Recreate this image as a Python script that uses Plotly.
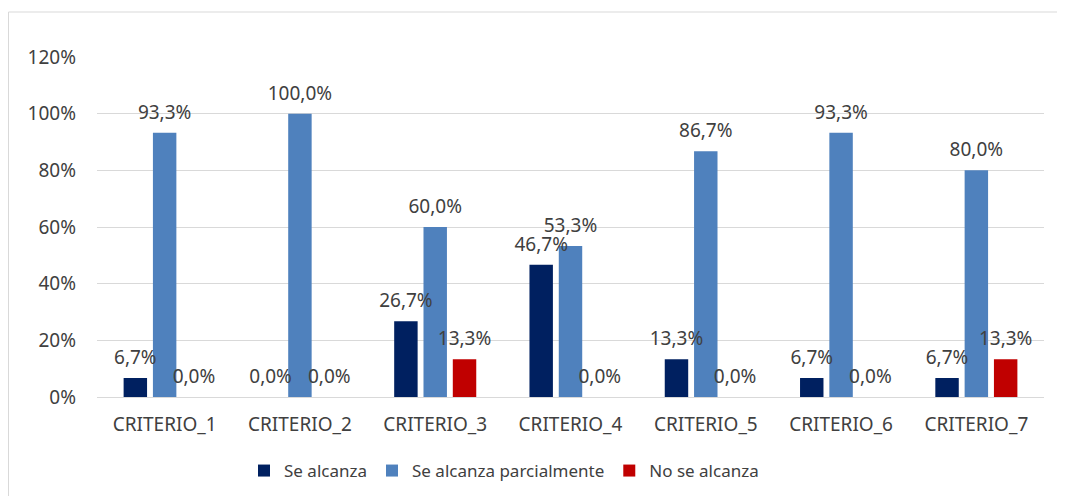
import plotly.graph_objects as go

categories = ["CRITERIO_1", "CRITERIO_2", "CRITERIO_3", "CRITERIO_4",
              "CRITERIO_5", "CRITERIO_6", "CRITERIO_7"]
se_alcanza = [0.067, 0.0, 0.267, 0.467, 0.133, 0.067, 0.067]
parcialmente = [0.933, 1.0, 0.600, 0.533, 0.867, 0.933, 0.800]
no_se_alcanza = [0.0, 0.0, 0.133, 0.0, 0.0, 0.0, 0.133]
y_ticks = [0, 0.2, 0.4, 0.6, 0.8, 1.0, 1.2]

series = [
    ("Se alcanza", se_alcanza, "#002060"),
    ("Se alcanza parcialmente", parcialmente, "#4F81BD"),
    ("No se alcanza", no_se_alcanza, "#C00000"),
]

font = "Noto Sans"
text_color = "#404040"
grid_color = "#D9D9D9"

# page body adds an 8px offset, so the figure is a bit smaller than the window
W, H = 1057, 488
L, T, R, B = 89, 49, 21, 99
pw, ph = W - L - R, H - T - B

fig = go.Figure()
for name, values, color in series:
    fig.add_trace(go.Bar(
        x=categories,
        y=values,
        name=name,
        marker=dict(color=color, line=dict(width=0)),
        hoverinfo="skip",
    ))

# data labels, grouped like the bars so they sit over each one
for name, values, color in series:
    fig.add_trace(go.Scatter(
        x=categories,
        y=values,
        mode="markers+text",
        marker=dict(size=13, color="rgba(0,0,0,0)"),
        text=[f"{v * 100:.1f}%".replace(".", ",") for v in values],
        textposition="top center",
        textfont=dict(family=font, size=19, color=text_color),
        cliponaxis=False,
        showlegend=False,
        hoverinfo="skip",
    ))

fig.update_layout(
    width=W,
    height=H,
    margin=dict(l=L, r=R, t=T, b=B, autoexpand=False),
    paper_bgcolor="white",
    plot_bgcolor="white",
    separators=",.",
    barmode="group",
    bargap=0.35,
    bargroupgap=0.2,
    scattermode="group",
    scattergap=0.35,
    font=dict(family=font, size=19, color=text_color),
    showlegend=True,
    legend=dict(
        orientation="h",
        xref="container",
        yref="container",
        x=496 / W,
        xanchor="center",
        y=(H - 463) / H,
        yanchor="middle",
        font=dict(family=font, size=17, color=text_color),
        itemwidth=30,
        traceorder="normal",
    ),
    xaxis=dict(
        automargin=False,
        showgrid=False,
        showline=False,
        ticks="",
        ticklabelstandoff=14,
        tickfont=dict(family=font, size=19, color=text_color),
    ),
    yaxis=dict(
        automargin=False,
        range=[0, 1.2],
        tickvals=y_ticks,
        tickformat=".0%",
        showgrid=True,
        gridcolor=grid_color,
        gridwidth=1,
        zeroline=True,
        zerolinecolor=grid_color,
        zerolinewidth=1,
        showline=False,
        ticks="",
        ticklabelstandoff=20,
        tickfont=dict(family=font, size=19, color=text_color),
    ),
    shapes=[
        dict(type="line", xref="paper", yref="paper",
             x0=(0.5 - L) / pw, x1=1.0 + (W - L - pw) / pw,
             y0=1 + (T - 4) / ph, y1=1 + (T - 4) / ph,
             line=dict(color=grid_color, width=1)),
        dict(type="line", xref="paper", yref="paper",
             x0=(0.5 - L) / pw, x1=(0.5 - L) / pw,
             y0=1 + (T - 4) / ph, y1=-B / ph,
             line=dict(color=grid_color, width=1)),
    ],
)

fig.write_html("out.html")
